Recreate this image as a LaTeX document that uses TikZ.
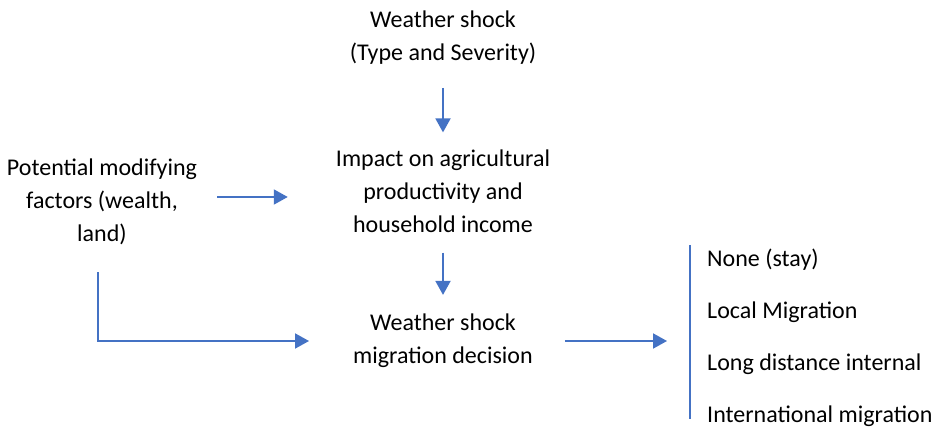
\documentclass[tikz,border=0pt]{standalone}
\usepackage{fontspec}
\setmainfont{Carlito}
\usetikzlibrary{positioning}
\usetikzlibrary{arrows.meta}
\definecolor{flowblue}{HTML}{4472C4}
\tikzset{>={Triangle[width=15pt,length=14pt]}}

\begin{document}
\begin{tikzpicture}[x=1pt, y=1pt, textnode/.style={align=center, inner sep=0pt, font=\fontsize{24}{33}\selectfont}, itemnode/.style={anchor=west, inner sep=0pt, font=\fontsize{24}{33}\selectfont}, flow/.style={draw=flowblue, line width=1.9pt}]
    \useasboundingbox (0,0) rectangle (939,428);

    %Nodes
    \node[textnode](shock) at (443,390){Weather shock\\(Type and Severity)};
    \node[textnode](impact) at (443,237){Impact on agricultural\\productivity and\\household income};
    \node[textnode](modify) at (102,226){Potential modifying\\factors (wealth,\\land)};
    \node[textnode](decision) at (443,87){Weather shock\\migration decision};
    \node[itemnode](none) at (707,168){None (stay)};
    \node[itemnode](local)[below=52pt of none.west, anchor=west]{Local Migration};
    \node[itemnode](internal)[below=52pt of local.west, anchor=west]{Long distance internal};
    \node[itemnode](international)[below=52pt of internal.west, anchor=west]{International migration};
    \coordinate (bartop) at (690,183);
    \coordinate (barbot) at (690,9);

    %Lines
    \draw[flow, ->, shorten <=23pt, shorten >=17pt] (shock.south) -- (impact.north);
    \draw[flow, ->, shorten <=20pt, shorten >=48pt] ([yshift=5pt]modify.east) -- ([yshift=5pt]modify.east -| impact.west);
    \draw[flow, ->, shorten <=20pt, shorten >=19pt] (impact.south) -- (decision.north);
    \draw[flow, ->, shorten <=27pt, shorten >=44pt] ([xshift=-4pt]modify.south) |- (decision.west);
    \draw[flow, ->, shorten <=32pt, shorten >=23pt] (decision.east) -- (decision.east -| bartop);
    \draw[flow] (bartop) -- (barbot);

\end{tikzpicture}
\end{document}
